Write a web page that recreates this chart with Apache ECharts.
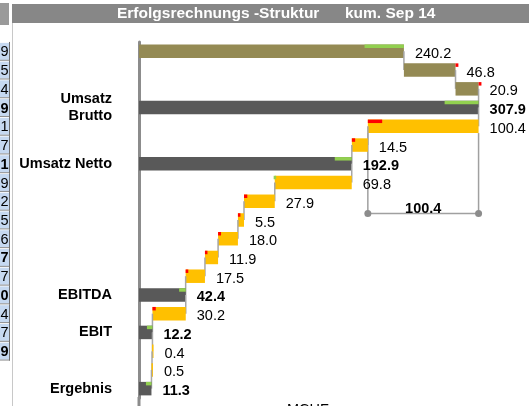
<!DOCTYPE html>
<html>
<head>
<meta charset="utf-8">
<title>Erfolgsrechnungs-Struktur</title>
<script src="https://cdn.jsdelivr.net/npm/echarts@6/dist/echarts.min.js"></script>
<style>
  html, body { margin: 0; padding: 0; background: #fff; }
  #chart { width: 529px; height: 406px; }
</style>
</head>
<body>
<div id="chart"></div>
<script>
// Zeilen der Erfolgsrechnung, von oben nach unten
var categories = ['', '', '', 'Umsatz\nBrutto', '', '', 'Umsatz Netto', '', '', '', '', '', '', 'EBITDA', '', 'EBIT', '', '', 'Ergebnis'];
// in = Zufluss (braun), out = Abzug (gelb), sum = Zwischentotal (grau)
var rowTypes = ['in', 'in', 'in', 'sum', 'out', 'out', 'sum', 'out', 'out', 'out', 'out', 'out', 'out', 'sum', 'out', 'sum', 'out', 'out', 'sum'];
var values = [240.2, 46.8, 20.9, 307.9, -100.4, -14.5, 192.9, -69.8, -27.9, -5.5, -18.0, -11.9, -17.5, 42.4, -30.2, 12.2, -0.4, -0.5, 11.3];
// Abweichung Ist - Plan (gruen = besser, rot = schlechter)
var deviations = [35.7, -2.6, -2.6, 30.8, -13.0, -3.0, 15.4, 1.0, -3.0, -2.0, -2.7, -2.0, -2.4, 6.0, -3.0, 5.0, 0, 0, 5.0];
// Klammer unter dem Abzug Brutto -> Netto
var bracketRow = 4;
var bracketLevel = 8.65;
// angeschnittene Tabellenspalte links
var tableDigits = ['9', '5', '4', '9', '1', '7', '1', '9', '2', '5', '6', '7', '7', '0', '4', '7', '9'];
var tableBold = [3, 6, 11, 13, 16];

var FONT = '"Liberation Sans", Arial, sans-serif';
var barColors = { 'in': '#948a54', 'out': '#ffc000', 'sum': '#595959' };

// Start / Ende jeder Zeile (Wasserfall)
var bars = [];
var running = 0;
values.forEach(function (v, i) {
  var start, end;
  if (rowTypes[i] === 'sum') {
    start = 0;
    end = v;
  } else {
    start = running;
    end = running + v;
  }
  running = end;
  bars.push([i, start, end, deviations[i]]);
});

function renderBar(params, api) {
  var i = api.value(0);
  var start = api.value(1);
  var end = api.value(2);
  var dev = api.value(3);
  var p0 = api.coord([start, i]);
  var p1 = api.coord([end, i]);
  var h = api.size([0, 1])[1] * 0.72;
  var left = Math.min(p0[0], p1[0]);
  var w = Math.max(Math.abs(p1[0] - p0[0]), 1.5);
  var top = p0[1] - h / 2;
  var children = [{
    type: 'rect',
    shape: { x: left, y: top, width: w, height: h },
    style: { fill: barColors[rowTypes[i]] }
  }];
  // Verbindungslinie zur naechsten Zeile
  if (i < values.length - 1) {
    var next = api.coord([end, i + 1]);
    children.push({
      type: 'line',
      shape: { x1: p1[0], y1: p1[1], x2: next[0], y2: next[1] },
      style: { stroke: '#a6a6a6', lineWidth: 1.5 }
    });
  }
  if (dev) {
    var m = api.coord([end - dev, i]);
    children.push({
      type: 'rect',
      shape: {
        x: Math.min(p1[0], m[0]), y: top,
        width: Math.max(Math.abs(m[0] - p1[0]), 2.5), height: 3.5
      },
      style: { fill: dev > 0 ? '#92d050' : '#ff0000' }
    });
  }
  children.push({
    type: 'text',
    x: left + w + 11,
    y: p0[1] + 2.5,
    style: {
      text: Math.abs(values[i]).toFixed(1),
      fill: '#000',
      fontSize: 14.5,
      fontFamily: FONT,
      fontWeight: rowTypes[i] === 'sum' ? 'bold' : 'normal',
      verticalAlign: 'middle'
    }
  });
  return { type: 'group', children: children };
}

function renderBracket(params, api) {
  var b = bars[bracketRow];
  var a0 = api.coord([b[1], bracketRow]);
  var a1 = api.coord([b[2], bracketRow]);
  var yTop = a0[1] + api.size([0, 1])[1] * 0.36;
  var base = Math.floor(bracketLevel);
  var yA = api.coord([0, base])[1];
  var yB = api.coord([0, base + 1])[1];
  var yLine = yA + (yB - yA) * (bracketLevel - base);
  var lineStyle = { stroke: '#a0a0a0', lineWidth: 1.5 };
  return {
    type: 'group',
    children: [
      { type: 'line', shape: { x1: a0[0], y1: yTop, x2: a0[0], y2: yLine }, style: lineStyle },
      { type: 'line', shape: { x1: a1[0], y1: yTop, x2: a1[0], y2: yLine }, style: lineStyle },
      { type: 'line', shape: { x1: a0[0], y1: yLine, x2: a1[0], y2: yLine }, style: lineStyle },
      { type: 'circle', shape: { cx: a0[0], cy: yLine, r: 3.5 }, style: { fill: '#8c8c8c' } },
      { type: 'circle', shape: { cx: a1[0], cy: yLine, r: 3.5 }, style: { fill: '#8c8c8c' } },
      {
        type: 'text',
        x: (a0[0] + a1[0]) / 2,
        y: yLine - 4.5,
        style: {
          text: Math.abs(values[bracketRow]).toFixed(1),
          fill: '#000',
          fontSize: 14.5,
          fontWeight: 'bold',
          fontFamily: FONT,
          align: 'center',
          verticalAlign: 'middle'
        }
      }
    ]
  };
}

function renderTable(params, api) {
  var i = api.value(0);
  var y = api.coord([0, i])[1];
  return {
    type: 'group',
    children: [
      { type: 'rect', shape: { x: 0, y: y - 8.5, width: 9, height: 17 }, style: { fill: '#c6d9f1' } },
      { type: 'line', shape: { x1: 0, y1: y + 8.9, x2: 10, y2: y + 8.9 }, style: { stroke: '#8c8c8c', lineWidth: 1 } },
      { type: 'line', shape: { x1: 9.5, y1: y - 9.4, x2: 9.5, y2: y + 9.4 }, style: { stroke: '#6f6f6f', lineWidth: 1 } },
      {
        type: 'text', x: 8.5, y: y + 1,
        style: {
          text: tableDigits[i], fill: '#000', fontSize: 14.5, fontFamily: FONT,
          fontWeight: tableBold.indexOf(i) >= 0 ? 'bold' : 'normal',
          align: 'right', verticalAlign: 'middle'
        }
      }
    ]
  };
}

var chart = echarts.init(document.getElementById('chart'));
chart.setOption({
  animation: false,
  backgroundColor: '#fff',
  title: [{
    text: 'Erfolgsrechnungs -Struktur',
    left: 117, top: 6, padding: 0,
    textStyle: { color: '#fff', fontSize: 15.5, fontWeight: 'bold', fontFamily: FONT }
  }, {
    text: 'kum. Sep 14',
    left: 345, top: 6, padding: 0,
    textStyle: { color: '#fff', fontSize: 15.5, fontWeight: 'bold', fontFamily: FONT }
  }],
  graphic: [
    { type: 'rect', left: 0, top: 3, shape: { width: 9, height: 22 }, style: { fill: '#9a9a9a' } },
    { type: 'rect', left: 12, top: 4, shape: { width: 517, height: 19 }, style: { fill: '#878787' } },
    { type: 'line', shape: { x1: 12.5, y1: 23, x2: 12.5, y2: 406 }, style: { stroke: '#c8c8c8', lineWidth: 1 } },
    { type: 'line', shape: { x1: 139, y1: 397, x2: 139, y2: 406 }, style: { stroke: '#8c8c8c', lineWidth: 3 } },
    {
      type: 'text', left: 287, top: 402,
      style: { text: 'MCHF', fill: '#000', fontSize: 14.5, fontFamily: FONT }
    }
  ],
  grid: { left: 139, right: 4, top: 42, height: 356 },
  xAxis: {
    type: 'value',
    min: 0,
    max: 350,
    show: false
  },
  yAxis: {
    type: 'category',
    inverse: true,
    data: categories,
    axisLine: { show: true, lineStyle: { color: '#8c8c8c', width: 3 } },
    axisTick: { show: false },
    axisLabel: {
      interval: 0,
      margin: 27,
      color: '#000',
      fontSize: 14.5,
      fontWeight: 'bold',
      fontFamily: FONT,
      lineHeight: 17
    },
    splitLine: { show: false }
  },
  series: [{
    name: 'Wasserfall',
    type: 'custom',
    renderItem: renderBar,
    encode: { x: [1, 2], y: 0 },
    data: bars,
    z: 3
  }, {
    name: 'Klammer',
    type: 'custom',
    renderItem: renderBracket,
    encode: { y: 0 },
    data: [[bracketLevel]],
    z: 2
  }, {
    name: 'Tabelle',
    type: 'custom',
    renderItem: renderTable,
    encode: { y: 0 },
    data: tableDigits.map(function (d, i) { return [i]; }),
    z: 2
  }]
});
</script>
</body>
</html>
